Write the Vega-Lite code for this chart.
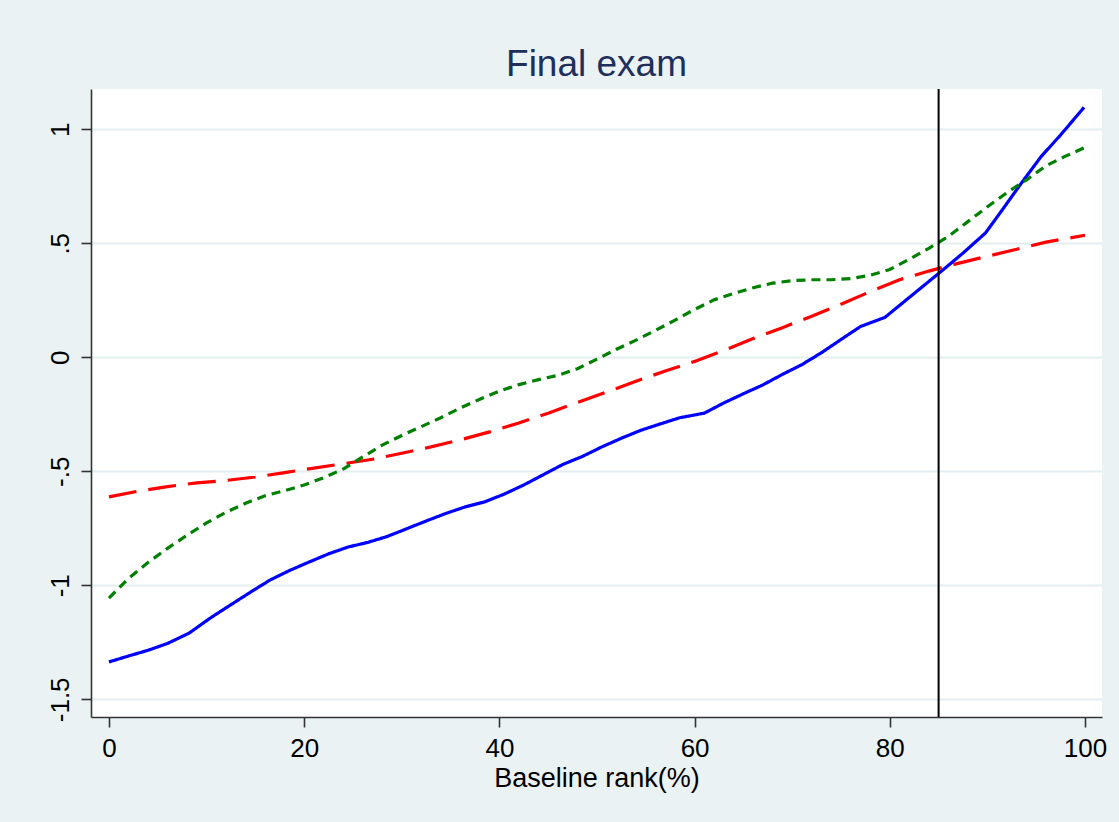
{
  "$schema": "https://vega.github.io/schema/vega-lite/v6.json",
  "width": 1011,
  "height": 628,
  "autosize": {"type": "none"},
  "padding": {"left": 91, "top": 89, "right": 17, "bottom": 105},
  "background": "#EAF2F3",
  "title": {
    "text": "Final exam",
    "font": "Liberation Sans",
    "fontSize": 37,
    "fontWeight": "normal",
    "color": "#1E2F5C",
    "anchor": "middle",
    "baseline": "alphabetic",
    "offset": -25
  },
  "config": {
    "view": {"stroke": null, "fill": "white"},
    "font": "Liberation Sans"
  },
  "datasets": {
    "lines": [
      {"rank": 0, "value": -1.336, "series": "Line 1"},
      {"rank": 2, "value": -1.31, "series": "Line 1"},
      {"rank": 4, "value": -1.285, "series": "Line 1"},
      {"rank": 6, "value": -1.255, "series": "Line 1"},
      {"rank": 8.2, "value": -1.21, "series": "Line 1"},
      {"rank": 10.5, "value": -1.14, "series": "Line 1"},
      {"rank": 12.5, "value": -1.085, "series": "Line 1"},
      {"rank": 14.5, "value": -1.03, "series": "Line 1"},
      {"rank": 16.5, "value": -0.977, "series": "Line 1"},
      {"rank": 18.5, "value": -0.935, "series": "Line 1"},
      {"rank": 20.5, "value": -0.898, "series": "Line 1"},
      {"rank": 22.5, "value": -0.862, "series": "Line 1"},
      {"rank": 24.5, "value": -0.832, "series": "Line 1"},
      {"rank": 26.5, "value": -0.812, "series": "Line 1"},
      {"rank": 28.5, "value": -0.786, "series": "Line 1"},
      {"rank": 30.5, "value": -0.752, "series": "Line 1"},
      {"rank": 32.5, "value": -0.718, "series": "Line 1"},
      {"rank": 34.5, "value": -0.685, "series": "Line 1"},
      {"rank": 36.5, "value": -0.656, "series": "Line 1"},
      {"rank": 38.5, "value": -0.634, "series": "Line 1"},
      {"rank": 40.5, "value": -0.6, "series": "Line 1"},
      {"rank": 42.5, "value": -0.56, "series": "Line 1"},
      {"rank": 44.5, "value": -0.515, "series": "Line 1"},
      {"rank": 46.5, "value": -0.47, "series": "Line 1"},
      {"rank": 48.5, "value": -0.435, "series": "Line 1"},
      {"rank": 50.5, "value": -0.393, "series": "Line 1"},
      {"rank": 52.5, "value": -0.355, "series": "Line 1"},
      {"rank": 54.5, "value": -0.32, "series": "Line 1"},
      {"rank": 56.5, "value": -0.292, "series": "Line 1"},
      {"rank": 58.5, "value": -0.265, "series": "Line 1"},
      {"rank": 61, "value": -0.245, "series": "Line 1"},
      {"rank": 63, "value": -0.2, "series": "Line 1"},
      {"rank": 65, "value": -0.16, "series": "Line 1"},
      {"rank": 67, "value": -0.121, "series": "Line 1"},
      {"rank": 69, "value": -0.075, "series": "Line 1"},
      {"rank": 71, "value": -0.032, "series": "Line 1"},
      {"rank": 73, "value": 0.02, "series": "Line 1"},
      {"rank": 75, "value": 0.078, "series": "Line 1"},
      {"rank": 77, "value": 0.135, "series": "Line 1"},
      {"rank": 79.5, "value": 0.175, "series": "Line 1"},
      {"rank": 81.5, "value": 0.245, "series": "Line 1"},
      {"rank": 83.5, "value": 0.315, "series": "Line 1"},
      {"rank": 85.5, "value": 0.385, "series": "Line 1"},
      {"rank": 87.5, "value": 0.457, "series": "Line 1"},
      {"rank": 89.8, "value": 0.545, "series": "Line 1"},
      {"rank": 91.5, "value": 0.645, "series": "Line 1"},
      {"rank": 93.5, "value": 0.765, "series": "Line 1"},
      {"rank": 95.5, "value": 0.88, "series": "Line 1"},
      {"rank": 97.5, "value": 0.975, "series": "Line 1"},
      {"rank": 99.9, "value": 1.096, "series": "Line 1"},

      {"rank": 0, "value": -0.612, "series": "Line 2"},
      {"rank": 3, "value": -0.587, "series": "Line 2"},
      {"rank": 6, "value": -0.567, "series": "Line 2"},
      {"rank": 9, "value": -0.551, "series": "Line 2"},
      {"rank": 12, "value": -0.54, "series": "Line 2"},
      {"rank": 15, "value": -0.525, "series": "Line 2"},
      {"rank": 18, "value": -0.506, "series": "Line 2"},
      {"rank": 21, "value": -0.486, "series": "Line 2"},
      {"rank": 24, "value": -0.467, "series": "Line 2"},
      {"rank": 27, "value": -0.447, "series": "Line 2"},
      {"rank": 30, "value": -0.421, "series": "Line 2"},
      {"rank": 33, "value": -0.393, "series": "Line 2"},
      {"rank": 36, "value": -0.362, "series": "Line 2"},
      {"rank": 39, "value": -0.327, "series": "Line 2"},
      {"rank": 42, "value": -0.288, "series": "Line 2"},
      {"rank": 45, "value": -0.245, "series": "Line 2"},
      {"rank": 48, "value": -0.198, "series": "Line 2"},
      {"rank": 51, "value": -0.152, "series": "Line 2"},
      {"rank": 54, "value": -0.105, "series": "Line 2"},
      {"rank": 57, "value": -0.06, "series": "Line 2"},
      {"rank": 60, "value": -0.018, "series": "Line 2"},
      {"rank": 63, "value": 0.03, "series": "Line 2"},
      {"rank": 66, "value": 0.082, "series": "Line 2"},
      {"rank": 69, "value": 0.13, "series": "Line 2"},
      {"rank": 72, "value": 0.18, "series": "Line 2"},
      {"rank": 75, "value": 0.233, "series": "Line 2"},
      {"rank": 78, "value": 0.288, "series": "Line 2"},
      {"rank": 81, "value": 0.34, "series": "Line 2"},
      {"rank": 84, "value": 0.378, "series": "Line 2"},
      {"rank": 87, "value": 0.412, "series": "Line 2"},
      {"rank": 90, "value": 0.443, "series": "Line 2"},
      {"rank": 93, "value": 0.474, "series": "Line 2"},
      {"rank": 96, "value": 0.505, "series": "Line 2"},
      {"rank": 100, "value": 0.535, "series": "Line 2"},

      {"rank": 0, "value": -1.056, "series": "Line 3"},
      {"rank": 2, "value": -0.97, "series": "Line 3"},
      {"rank": 4, "value": -0.9, "series": "Line 3"},
      {"rank": 6, "value": -0.838, "series": "Line 3"},
      {"rank": 8, "value": -0.78, "series": "Line 3"},
      {"rank": 10, "value": -0.726, "series": "Line 3"},
      {"rank": 12, "value": -0.68, "series": "Line 3"},
      {"rank": 14, "value": -0.64, "series": "Line 3"},
      {"rank": 16, "value": -0.607, "series": "Line 3"},
      {"rank": 18, "value": -0.585, "series": "Line 3"},
      {"rank": 20, "value": -0.56, "series": "Line 3"},
      {"rank": 22, "value": -0.528, "series": "Line 3"},
      {"rank": 24, "value": -0.49, "series": "Line 3"},
      {"rank": 26, "value": -0.437, "series": "Line 3"},
      {"rank": 28, "value": -0.385, "series": "Line 3"},
      {"rank": 30, "value": -0.343, "series": "Line 3"},
      {"rank": 32, "value": -0.304, "series": "Line 3"},
      {"rank": 34, "value": -0.265, "series": "Line 3"},
      {"rank": 36, "value": -0.222, "series": "Line 3"},
      {"rank": 38, "value": -0.184, "series": "Line 3"},
      {"rank": 40, "value": -0.148, "series": "Line 3"},
      {"rank": 42, "value": -0.12, "series": "Line 3"},
      {"rank": 44, "value": -0.098, "series": "Line 3"},
      {"rank": 46, "value": -0.079, "series": "Line 3"},
      {"rank": 48, "value": -0.05, "series": "Line 3"},
      {"rank": 50, "value": -0.008, "series": "Line 3"},
      {"rank": 52, "value": 0.035, "series": "Line 3"},
      {"rank": 54, "value": 0.075, "series": "Line 3"},
      {"rank": 56, "value": 0.118, "series": "Line 3"},
      {"rank": 58, "value": 0.163, "series": "Line 3"},
      {"rank": 60, "value": 0.21, "series": "Line 3"},
      {"rank": 62, "value": 0.252, "series": "Line 3"},
      {"rank": 64, "value": 0.28, "series": "Line 3"},
      {"rank": 66, "value": 0.305, "series": "Line 3"},
      {"rank": 68, "value": 0.325, "series": "Line 3"},
      {"rank": 70, "value": 0.336, "series": "Line 3"},
      {"rank": 72, "value": 0.34, "series": "Line 3"},
      {"rank": 74, "value": 0.34, "series": "Line 3"},
      {"rank": 76, "value": 0.345, "series": "Line 3"},
      {"rank": 78, "value": 0.36, "series": "Line 3"},
      {"rank": 80, "value": 0.385, "series": "Line 3"},
      {"rank": 82, "value": 0.43, "series": "Line 3"},
      {"rank": 84, "value": 0.478, "series": "Line 3"},
      {"rank": 86, "value": 0.53, "series": "Line 3"},
      {"rank": 88, "value": 0.595, "series": "Line 3"},
      {"rank": 90, "value": 0.66, "series": "Line 3"},
      {"rank": 92, "value": 0.722, "series": "Line 3"},
      {"rank": 94, "value": 0.778, "series": "Line 3"},
      {"rank": 96, "value": 0.84, "series": "Line 3"},
      {"rank": 98, "value": 0.882, "series": "Line 3"},
      {"rank": 100, "value": 0.92, "series": "Line 3"}
    ],
    "cutoff": [{"rank": 85}]
  },
  "encoding": {
    "x": {
      "field": "rank",
      "type": "quantitative",
      "title": "Baseline rank(%)",
      "scale": {"domain": [-1.84, 101.74], "nice": false, "zero": false},
      "axis": {
        "values": [0, 20, 40, 60, 80, 100],
        "grid": false,
        "domainColor": "#333333",
        "domainWidth": 1.6,
        "tickColor": "#333333",
        "tickWidth": 1.6,
        "tickSize": 10,
        "labelFontSize": 26,
        "labelColor": "black",
        "labelPadding": 8,
        "labelFont": "Liberation Sans",
        "labelFlush": false,
        "titleFont": "Liberation Sans",
        "titleFontSize": 27,
        "titleFontWeight": "normal",
        "titleColor": "black",
        "titlePadding": 4
      }
    }
  },
  "layer": [
    {
      "data": {"name": "lines"},
      "mark": {"type": "line", "strokeWidth": 3.2, "clip": true},
      "encoding": {
        "y": {
          "field": "value",
          "type": "quantitative",
          "title": null,
          "scale": {"domain": [-1.5775, 1.1765], "nice": false, "zero": false},
          "axis": {
            "values": [-1.5, -1, -0.5, 0, 0.5, 1],
            "labelExpr": "(datum.value < 0 ? '-' : '') + replace(format(abs(datum.value), '.1~f'), '0.', '.')",
            "grid": true,
            "gridColor": "#E4EEF0",
            "gridWidth": 2,
            "domainColor": "#333333",
            "domainWidth": 1.6,
            "tickColor": "#333333",
            "tickWidth": 1.6,
            "tickSize": 10,
            "labelFontSize": 26,
            "labelColor": "black",
            "labelAngle": 270,
            "labelAlign": "center",
            "labelBaseline": "bottom",
            "labelPadding": 8,
            "labelFont": "Liberation Sans",
            "labelFlush": false
          }
        },
        "color": {
          "field": "series",
          "type": "nominal",
          "scale": {"domain": ["Line 1", "Line 2", "Line 3"], "range": ["#0000FF", "#FF0000", "#008000"]},
          "legend": null
        },
        "strokeDash": {
          "field": "series",
          "type": "nominal",
          "scale": {"domain": ["Line 1", "Line 2", "Line 3"], "range": [[1, 0], [28, 12], [9, 6]]},
          "legend": null
        }
      }
    },
    {
      "data": {"name": "cutoff"},
      "mark": {"type": "rule", "color": "black", "strokeWidth": 2},
      "encoding": {}
    }
  ]
}
